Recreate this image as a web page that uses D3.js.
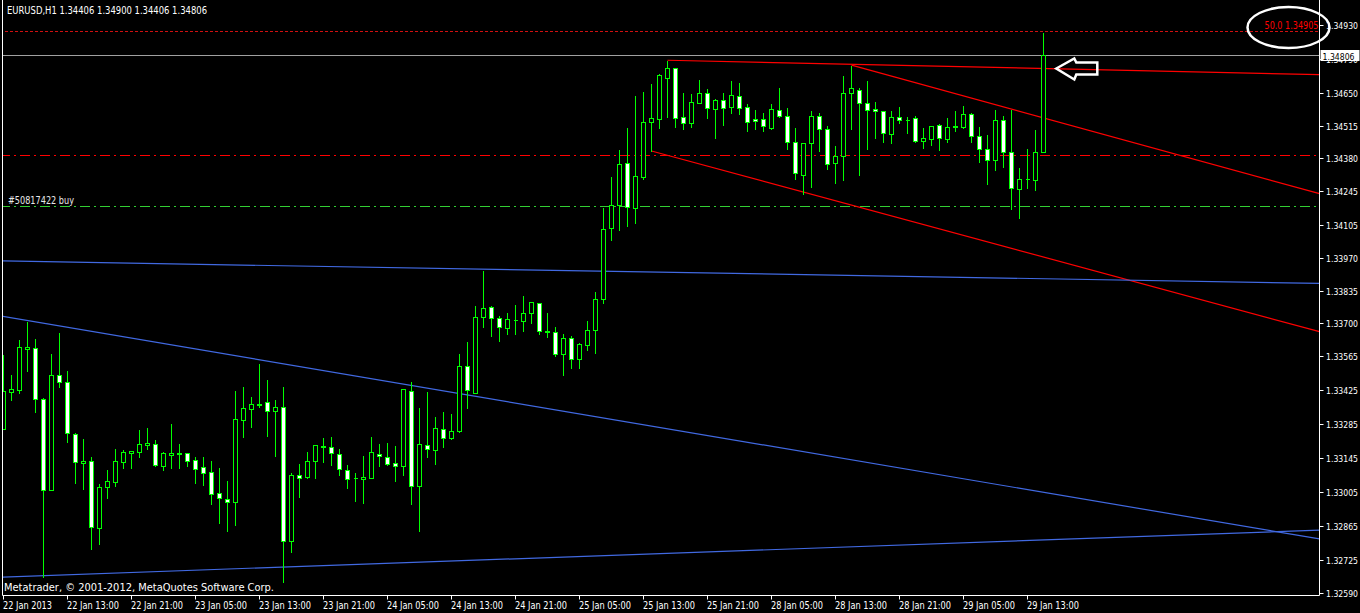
<!DOCTYPE html>
<html><head><meta charset="utf-8">
<script src="https://cdn.jsdelivr.net/npm/d3@7"></script>
<style>
html,body{margin:0;padding:0;background:#000;overflow:hidden}
svg{display:block}
text{font-family:"DejaVu Sans Condensed","Liberation Sans",sans-serif;font-size:10px}
text.px{font-size:9px}
</style></head><body>
<svg id="c" width="1360" height="613"></svg>
<script>
// ---- EURUSD H1, 22 Jan 2013 05:00 .. 29 Jan 2013 15:00 ----
const opens=[1.33263,1.33416,1.33427,1.33596,1.33597,1.33387,1.33015,1.33486,1.33457,1.33243,
1.33126,1.33132,1.32856,1.33024,1.33048,1.33127,1.33164,1.33171,1.33200,1.33202,
1.33114,1.33159,1.33164,1.33164,1.33136,1.33107,1.33086,1.33001,1.32975,1.32965,
1.33303,1.33348,1.33366,1.33374,1.33337,1.33354,1.32802,1.33074,1.33068,1.33135,
1.33189,1.33189,1.33160,1.33094,1.33061,1.33060,1.33065,1.33160,1.33148,1.33123,
1.33111,1.33423,1.33032,1.33197,1.33179,1.33263,1.33226,1.33258,1.33523,1.33414,
1.33728,1.33766,1.33721,1.33680,1.33712,1.33711,1.33741,1.33783,1.33669,1.33663,
1.33572,1.33638,1.33552,1.33609,1.33671,1.33799,1.34091,1.34189,1.34359,1.34176,
1.34304,1.34528,1.34543,1.34712,1.34750,1.34549,1.34527,1.34606,1.34648,1.34584,
1.34619,1.34593,1.34635,1.34590,1.34540,1.34540,1.34506,1.34580,1.34553,1.34446,
1.34310,1.34442,1.34553,1.34499,1.34359,1.34388,1.34648,1.34660,1.34606,1.34582,
1.34573,1.34479,1.34549,1.34536,1.34545,1.34450,1.34461,1.34516,1.34461,1.34507,
1.34510,1.34561,1.34470,1.34417,1.34371,1.34536,1.34404,1.34252,1.34293,1.34289,
1.34406];
const highs=[1.33574,1.33491,1.33636,1.33710,1.33640,1.33395,1.33578,1.33663,1.33506,1.33252,
1.33228,1.33154,1.33042,1.33100,1.33187,1.33182,1.33173,1.33265,1.33273,1.33224,
1.33174,1.33290,1.33207,1.33170,1.33154,1.33154,1.33137,1.33108,1.33055,1.33425,
1.33442,1.33400,1.33536,1.33470,1.33387,1.33442,1.33087,1.33125,1.33174,1.33197,
1.33232,1.33236,1.33186,1.33119,1.33087,1.33157,1.33236,1.33207,1.33211,1.33199,
1.33428,1.33461,1.33355,1.33421,1.33318,1.33339,1.33330,1.33578,1.33627,1.33776,
1.33920,1.33776,1.33734,1.33747,1.33780,1.33817,1.33791,1.33788,1.33747,1.33689,
1.33660,1.33652,1.33623,1.33714,1.33833,1.34179,1.34307,1.34418,1.34509,1.34641,
1.34657,1.34690,1.34730,1.34783,1.34750,1.34653,1.34648,1.34707,1.34671,1.34627,
1.34653,1.34702,1.34694,1.34608,1.34583,1.34572,1.34608,1.34674,1.34591,1.34509,
1.34447,1.34579,1.34571,1.34516,1.34433,1.34723,1.34764,1.34674,1.34702,1.34616,
1.34573,1.34579,1.34595,1.34554,1.34557,1.34507,1.34516,1.34524,1.34549,1.34579,
1.34598,1.34569,1.34512,1.34480,1.34583,1.34557,1.34582,1.34344,1.34421,1.34499,
1.34900];
const lows=[1.33263,1.33386,1.33414,1.33505,1.33336,1.32656,1.33015,1.33439,1.33212,1.33044,
1.33019,1.32772,1.32792,1.32982,1.33031,1.33105,1.33105,1.33151,1.33184,1.33114,
1.33097,1.33105,1.33105,1.33114,1.33042,1.33035,1.32957,1.32879,1.32846,1.32870,
1.33233,1.33274,1.33357,1.33237,1.33155,1.32636,1.32759,1.32986,1.33061,1.33064,
1.33130,1.33118,1.33076,1.33023,1.32969,1.32961,1.33065,1.33114,1.33118,1.33052,
1.33075,1.32957,1.32846,1.33151,1.33122,1.33192,1.33222,1.33254,1.33353,1.33414,
1.33686,1.33649,1.33629,1.33658,1.33658,1.33670,1.33703,1.33658,1.33645,1.33567,
1.33489,1.33517,1.33517,1.33592,1.33579,1.33785,1.34043,1.34084,1.34102,1.34115,
1.34296,1.34409,1.34506,1.34551,1.34510,1.34502,1.34509,1.34606,1.34547,1.34465,
1.34518,1.34568,1.34564,1.34494,1.34502,1.34494,1.34502,1.34551,1.34420,1.34296,
1.34234,1.34263,1.34411,1.34337,1.34279,1.34290,1.34502,1.34312,1.34420,1.34465,
1.34448,1.34442,1.34524,1.34485,1.34446,1.34424,1.34436,1.34415,1.34447,1.34494,
1.34506,1.34448,1.34363,1.34275,1.34333,1.34345,1.34170,1.34133,1.34256,1.34251,
1.34406];
const closes=[1.33421,1.33428,1.33601,1.33601,1.33387,1.33012,1.33486,1.33457,1.33247,1.33127,
1.33133,1.32860,1.33026,1.33049,1.33132,1.33169,1.33173,1.33202,1.33206,1.33118,
1.33164,1.33164,1.33163,1.33134,1.33101,1.33085,1.32998,1.32982,1.32965,1.33304,
1.33350,1.33366,1.33365,1.33341,1.33354,1.32802,1.33074,1.33065,1.33131,1.33197,
1.33195,1.33164,1.33100,1.33057,1.33062,1.33067,1.33168,1.33152,1.33122,1.33111,
1.33428,1.33028,1.33201,1.33184,1.33267,1.33226,1.33256,1.33523,1.33424,1.33725,
1.33762,1.33721,1.33684,1.33717,1.33713,1.33741,1.33787,1.33667,1.33663,1.33575,
1.33638,1.33552,1.33614,1.33671,1.33799,1.34087,1.34186,1.34355,1.34178,1.34306,
1.34528,1.34545,1.34722,1.34750,1.34545,1.34524,1.34610,1.34648,1.34586,1.34619,
1.34586,1.34639,1.34586,1.34528,1.34532,1.34512,1.34582,1.34553,1.34446,1.34318,
1.34442,1.34553,1.34499,1.34355,1.34388,1.34648,1.34668,1.34606,1.34577,1.34573,
1.34483,1.34549,1.34536,1.34537,1.34450,1.34462,1.34512,1.34462,1.34507,1.34512,
1.34561,1.34470,1.34417,1.34371,1.34536,1.34404,1.34256,1.34293,1.34294,1.34404,
1.34806];

// time axis labels (bar index -> label)
const timeTickIndex=[0,8,16,24,32,40,48,56,64,72,80,88,96,104,112,120,128];
const timeTickLabel=["22 Jan 2013","22 Jan 13:00","22 Jan 21:00","23 Jan 05:00","23 Jan 13:00",
"23 Jan 21:00","24 Jan 05:00","24 Jan 13:00","24 Jan 21:00","25 Jan 05:00","25 Jan 13:00",
"25 Jan 21:00","28 Jan 05:00","28 Jan 13:00","28 Jan 21:00","29 Jan 05:00","29 Jan 13:00"];
// price axis labels
const priceTicks=[1.34930,1.34790,1.34650,1.34515,1.34380,1.34245,1.34105,1.33970,1.33835,
1.33700,1.33565,1.33425,1.33285,1.33145,1.33005,1.32865,1.32725,1.32590];

// horizontal levels
const fiboLevel=1.34905, fiboText="50.0 1.34905";
const bidPrice=1.34806;
const stopLevel=1.34392;
const orderLevel=1.34182, orderText="#50817422 buy";

// trend lines: start (bar, price), second anchor (bar, price)
const trendI1=[83,106,81,0,0,0];
const trendP1=[1.34784,1.34764,1.34410,1.33957,1.33728,1.32655];
const trendI2=[160,160,160,160,160,160];
const trendP2=[1.34728,1.34275,1.33706,1.33867,1.32837,1.32843];
const trendColor=["#ff0000","#ff0000","#ff0000","#4169e1","#4169e1","#4169e1"];
const trendBothWays=[false,false,false,true,true,true];

const titleText="EURUSD,H1  1.34406 1.34900 1.34406 1.34806";
const copyText="Metatrader, \u00a9 2001-2012, MetaQuotes Software Corp.";
const arrowBar=131.6, arrowPrice=1.34750;

// ---------------------------------------------------------------
const W=1360,H=613, left=2.5, right=1319.5, bottom=595.5;
const svg=d3.select("#c");
svg.append("rect").attr("width",W).attr("height",H).attr("fill","#000");

const x=d3.scaleLinear().domain([0,130]).range([3.5,1043.5]);
const y=d3.scaleLinear().domain([1.32590,1.34930]).range([592.8,24.8]);
const py=p=>Math.round(y(p))+0.5;
const fit=(sel,w)=>sel.attr("textLength",w).attr("lengthAdjust","spacingAndGlyphs");

svg.append("defs").append("clipPath").attr("id","plot")
  .append("rect").attr("x",3).attr("y",0).attr("width",right-3).attr("height",bottom);
const plot=svg.append("g").attr("clip-path","url(#plot)");

// horizontal level lines
plot.append("line").attr("x1",0).attr("x2",right).attr("y1",py(fiboLevel)).attr("y2",py(fiboLevel))
  .attr("stroke","#d01010").attr("stroke-dasharray","3,2");
plot.append("line").attr("x1",0).attr("x2",right).attr("y1",py(bidPrice)).attr("y2",py(bidPrice))
  .attr("stroke","#a0a0a0");
plot.append("line").attr("x1",0).attr("x2",right).attr("y1",py(stopLevel)).attr("y2",py(stopLevel))
  .attr("stroke","#ff0000").attr("stroke-dasharray","10,4,2,4");
plot.append("line").attr("x1",0).attr("x2",right).attr("y1",py(orderLevel)).attr("y2",py(orderLevel))
  .attr("stroke","#32cd32").attr("stroke-dasharray","10,4,2,4");

// trend lines
trendI1.forEach((i1,k)=>{
  const x1=x(i1), y1=y(trendP1[k]), x2=x(trendI2[k]), y2=y(trendP2[k]);
  const m=(y2-y1)/(x2-x1);
  const xs=trendBothWays[k]?0:x1, xe=right;
  plot.append("line").attr("x1",xs).attr("y1",y1+m*(xs-x1)).attr("x2",xe).attr("y2",y1+m*(xe-x1))
    .attr("stroke",trendColor[k]).attr("stroke-width",1.2);
});

// candles
const bars=opens.map((o,i)=>({i,o,h:highs[i],l:lows[i],c:closes[i]}));
const cg=plot.append("g");
cg.selectAll("line.wick").data(bars).join("line").attr("class","wick")
  .attr("x1",d=>x(d.i)).attr("x2",d=>x(d.i)).attr("y1",d=>py(d.h)).attr("y2",d=>py(d.l))
  .attr("stroke","#00ff00").attr("shape-rendering","crispEdges");
bars.forEach(d=>{
  const top=py(Math.max(d.o,d.c)), bot=py(Math.min(d.o,d.c)), cx=x(d.i);
  if(bot-top<1){
    cg.append("line").attr("x1",cx-2).attr("x2",cx+2).attr("y1",top).attr("y2",top)
      .attr("stroke","#00ff00").attr("shape-rendering","crispEdges");
  } else {
    cg.append("rect").attr("x",cx-2).attr("y",top).attr("width",4).attr("height",bot-top)
      .attr("fill",d.c>d.o?"#000":"#fff").attr("stroke","#00ff00").attr("shape-rendering","crispEdges");
  }
});

// arrow annotation (outlined, pointing left to the breakout)
const ax=x(arrowBar), ay=y(arrowPrice);
const arrowPts=[[0,0],[18,-10],[20,-6],[41,-6],[41,6],[20,6],[18,11]].map(p=>[ax+p[0],ay+p[1]]);
svg.append("polygon").attr("points",arrowPts.map(p=>p.join(",")).join(" "))
  .attr("fill","none").attr("stroke","#fff").attr("stroke-width",2.5).attr("stroke-linejoin","miter");

// texts in plot
fit(svg.append("text").attr("x",7).attr("y",14).attr("fill","#fff").text(titleText),200);
fit(svg.append("text").attr("x",8).attr("y",py(orderLevel)-3).attr("fill","#e8e8e8").text(orderText),66);
fit(svg.append("text").attr("x",4).attr("y",591).attr("fill","#fff").text(copyText),270);
fit(svg.append("text").attr("x",right-1).attr("y",py(fiboLevel)-2.5).attr("text-anchor","end")
  .attr("fill","#ff0000").text(fiboText),54);

// frame
svg.append("line").attr("x1",left).attr("x2",left).attr("y1",0).attr("y2",bottom).attr("stroke","#fff");
svg.append("line").attr("x1",right).attr("x2",right).attr("y1",0).attr("y2",bottom).attr("stroke","#fff");
svg.append("line").attr("x1",left).attr("x2",right).attr("y1",bottom).attr("y2",bottom).attr("stroke","#fff");

// price axis
const ya=svg.append("g").attr("transform",`translate(${right},0)`);
priceTicks.forEach(p=>{
  const t=py(p);
  ya.append("line").attr("x1",0).attr("x2",4).attr("y1",t).attr("y2",t).attr("stroke","#fff");
  fit(ya.append("text").attr("class","px").attr("x",6.5).attr("y",t+3.5).attr("fill","#fff")
    .text(d3.format(".5f")(p)),32);
});
// bid price box
const by=py(bidPrice);
ya.append("rect").attr("x",1).attr("y",by-5.5).attr("width",39).attr("height",11).attr("fill","#fff");
fit(ya.append("text").attr("class","px").attr("x",3).attr("y",by+4).attr("fill","#000")
  .text(d3.format(".5f")(bidPrice)),32);

// time axis
const xa=svg.append("g");
timeTickIndex.forEach((idx,k)=>{
  const t=Math.floor(x(idx))+0.5;
  xa.append("line").attr("x1",t).attr("x2",t).attr("y1",bottom).attr("y2",bottom+4).attr("stroke","#fff");
  fit(xa.append("text").attr("x",t-0.5).attr("y",609).attr("fill","#fff").text(timeTickLabel[k]),
      timeTickLabel[k].length===11?49:52);
});

// ellipse annotation around the level label
svg.append("ellipse").attr("cx",right-31).attr("cy",py(fiboLevel)-4).attr("rx",41).attr("ry",20.5)
  .attr("fill","none").attr("stroke","#fff").attr("stroke-width",2.5);
</script></body></html>
